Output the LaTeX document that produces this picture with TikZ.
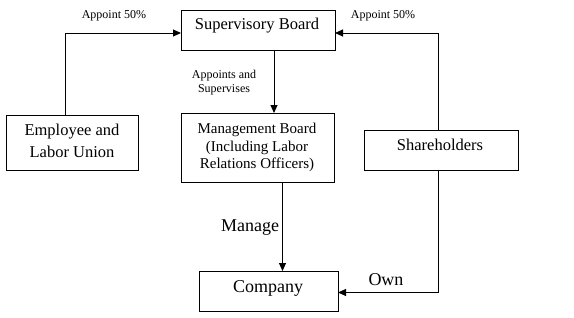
\documentclass[tikz,border=0pt]{standalone}
\usepackage{fontspec}
\setmainfont{Liberation Serif}
\usetikzlibrary{arrows.meta}
\begin{document}
\begin{tikzpicture}[x=1pt,y=-1pt,
  box/.style={draw, line width=1pt, inner sep=0pt, anchor=north west},
  conn/.style={line width=1pt},
  arr/.style={line width=1pt, -{Triangle[length=8pt,width=7pt]}},
  big/.style={font=\fontsize{16.5}{18}\selectfont, anchor=base, inner sep=0pt},
  mid/.style={font=\fontsize{15}{17}\selectfont, anchor=base, inner sep=0pt},
  lrg/.style={font=\fontsize{18}{20}\selectfont, anchor=base, inner sep=0pt},
  sml/.style={font=\fontsize{12}{14}\selectfont, anchor=base, inner sep=0pt}]
\useasboundingbox (0,0) rectangle (574,317);
% boxes
\node[box, minimum width=154pt, minimum height=40pt] (sb) at (181,10) {};
\node[box, minimum width=132pt, minimum height=55pt] (eu) at (6,115) {};
\node[box, minimum width=153pt, minimum height=69pt] (mb) at (181,113) {};
\node[box, minimum width=154pt, minimum height=40pt] (sh) at (364,130) {};
\node[box, minimum width=139pt, minimum height=40pt] (co) at (199,271) {};
% texts
\node[big] (tsb) at (257,29.5) {Supervisory Board};
\node[big] (teu1) at (72,135) {Employee and};
\node[big] (teu2) at (72,157) {Labor Union};
\node[mid] (tmb1) at (257,133) {Management Board};
\node[mid] (tmb2) at (257,151) {(Including Labor};
\node[mid] (tmb3) at (257,168) {Relations Officers)};
\node[big] (tsh) at (440,150) {Shareholders};
\node[lrg] (tco) at (268,292) {Company};
% labels
\node[sml] (l1) at (114,18) {Appoint 50\%};
\node[sml] (l2) at (383,18) {Appoint 50\%};
\node[sml] (l3) at (224,78) {Appoints and};
\node[sml] (l4) at (224,92) {Supervises};
\node[lrg] (l5) at (250,231) {Manage};
\node[lrg] (l6) at (386,285) {Own};
% connector coordinates
\coordinate (eutop) at (65,115);
\coordinate (sbl) at (181,33);
\coordinate (shtop) at (438,130);
\coordinate (sbr) at (335,33);
\coordinate (sbbot) at (274,50);
\coordinate (mbtop) at (274,113);
\coordinate (mbbot) at (282.5,182);
\coordinate (cotop) at (282.5,271);
\coordinate (shbot) at (438,170);
\coordinate (cor) at (338,292.5);
% connectors
\draw[arr] (eutop) |- (sbl);
\draw[arr] (shtop) |- (sbr);
\draw[arr] (sbbot) -- (mbtop);
\draw[arr] (mbbot) -- (cotop);
\draw[arr] (shbot) |- (cor);
\end{tikzpicture}
\end{document}
